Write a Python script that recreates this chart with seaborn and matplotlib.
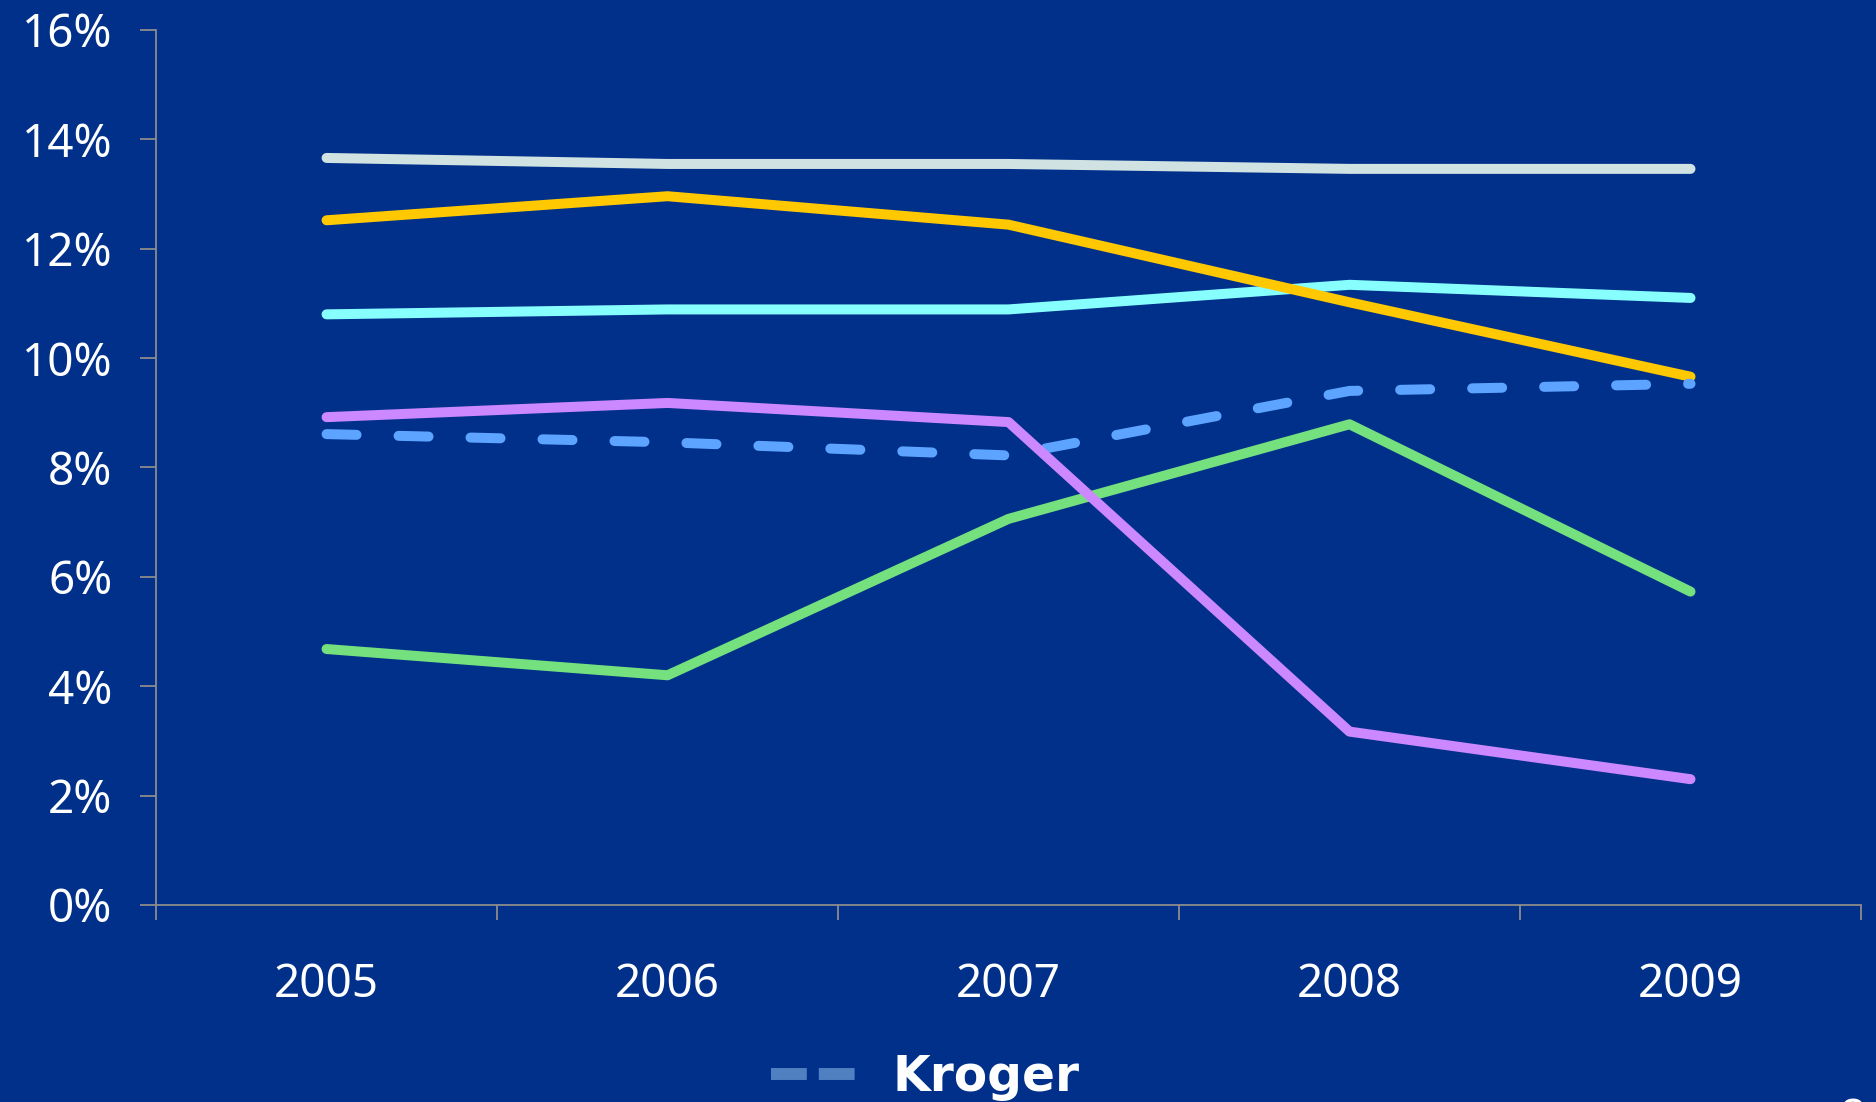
import matplotlib
matplotlib.use("Agg")
import matplotlib.pyplot as plt
from matplotlib.lines import Line2D
import numpy as np
import pandas as pd
import seaborn as sns

years = ["2005", "2006", "2007", "2008", "2009"]

series_gray = [13.66, 13.55, 13.55, 13.46, 13.46]
series_yellow = [12.52, 12.96, 12.44, 11.02, 9.66]
series_cyan = [10.80, 10.89, 10.89, 11.34, 11.10]
kroger = [8.61, 8.46, 8.22, 9.40, 9.53]
series_purple = [8.92, 9.18, 8.83, 3.17, 2.30]
series_green = [4.68, 4.20, 7.06, 8.79, 5.73]

y_ticks = [0, 2, 4, 6, 8, 10, 12, 14, 16]
y_tick_labels = [f"{v}%" for v in y_ticks]

BG = "#00308A"
AXIS = "#8C8C8C"

sns.set_theme(style="white")
plt.rcParams["font.family"] = ["Noto Sans", "DejaVu Sans"]

fig = plt.figure(figsize=(18.76, 11.02), dpi=100, facecolor=BG)
ax = fig.add_axes([0.0832, 0.1788, 0.9088, 0.794])
ax.set_facecolor(BG)

x_pos = np.arange(len(years)) + 0.5

lines = [
    ("gray", series_gray, "#D0E2E2", ""),
    ("cyan", series_cyan, "#88FFFF", ""),
    ("yellow", series_yellow, "#FFC800", ""),
    ("Kroger", kroger, "#5CA4FF", (3.0, 4.2)),
    ("green", series_green, "#74E07E", ""),
    ("purple", series_purple, "#CC88FF", ""),
]

frames = []
for name, vals, col, dash in lines:
    frames.append(pd.DataFrame({"x": x_pos, "value": vals, "series": name}))
df = pd.concat(frames, ignore_index=True)

sns.lineplot(
    data=df, x="x", y="value", hue="series", style="series",
    hue_order=[l[0] for l in lines], style_order=[l[0] for l in lines],
    palette={l[0]: l[2] for l in lines},
    dashes={l[0]: l[3] for l in lines},
    linewidth=7.2, legend=False, ax=ax, estimator=None, sort=False,
)
for ln in ax.get_lines():
    ln.set_solid_capstyle("round")
    ln.set_dash_capstyle("round")
    ln.set_solid_joinstyle("round")

ax.set_xlim(0, len(years))
ax.set_ylim(0, 16)
ax.set_xlabel("")
ax.set_ylabel("")

ax.set_yticks(y_ticks)
ax.set_yticklabels(y_tick_labels)
ax.set_xticks(np.arange(len(years) + 1))
ax.set_xticklabels([])
ax.set_xticks(x_pos, minor=True)
ax.set_xticklabels(years, minor=True)

ax.tick_params(axis="y", which="major", direction="out", length=11.5, width=1.3,
               color=AXIS, labelcolor="white", labelsize=33, pad=20, left=True)
ax.tick_params(axis="x", which="major", direction="out", length=11, width=1.3,
               color=AXIS, bottom=True)
ax.tick_params(axis="x", which="minor", length=0, labelcolor="white",
               labelsize=33, pad=41, bottom=True)

for side in ["top", "right"]:
    ax.spines[side].set_visible(False)
for side in ["left", "bottom"]:
    ax.spines[side].set_color(AXIS)
    ax.spines[side].set_linewidth(1.3)

handle = Line2D([0], [0], color="#5080C0", linewidth=8.6, linestyle=(0, (3, 1)),
                solid_capstyle="butt", dash_capstyle="butt")
leg = fig.legend([handle], ["Kroger"], loc="center left", bbox_to_anchor=(0.398, 0.023),
                 frameon=False, borderpad=0, handlelength=1.75, handletextpad=0.75,
                 prop={"family": "DejaVu Sans", "size": 35, "weight": "bold"})
for t in leg.get_texts():
    t.set_color("white")

fig.text(0.9805, 0.0045, "8", color="white", fontsize=33, ha="left", va="top")

fig.savefig("out.png", dpi=100, facecolor=BG)
